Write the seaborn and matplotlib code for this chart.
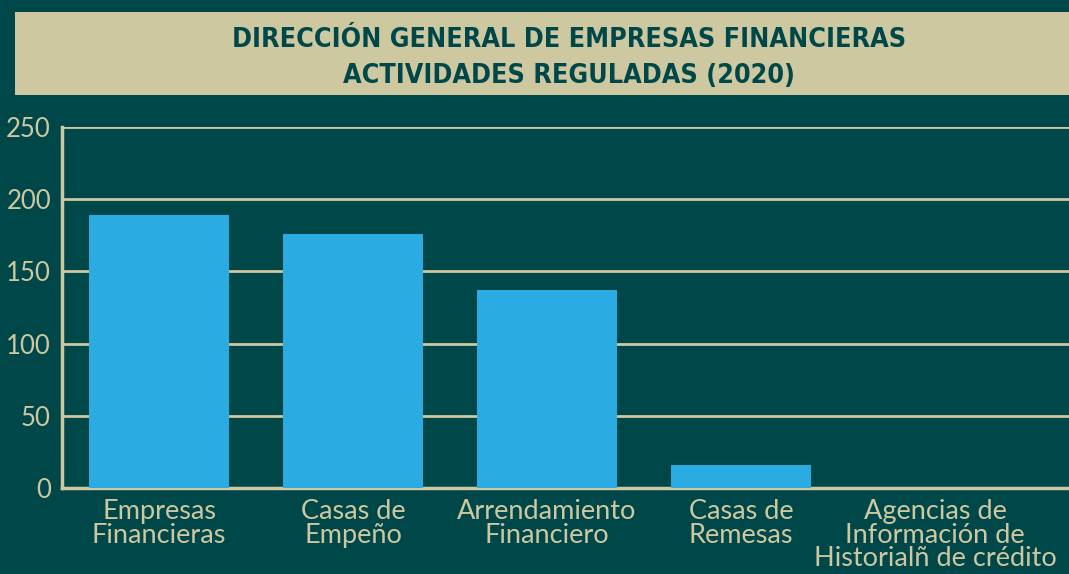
import matplotlib
matplotlib.use("Agg")
import matplotlib.pyplot as plt
import seaborn as sns
import pandas as pd
from matplotlib.patches import Rectangle

categories = ["Empresas\nFinancieras", "Casas de\nEmpeño", "Arrendamiento\nFinanciero",
              "Casas de\nRemesas", "Agencias de\nInformación de\nHistorialñ de crédito"]
values = [189, 176, 137, 16, 0]
yticks = [0, 50, 100, 150, 200, 250]
title_lines = ["DIRECCIÓN GENERAL DE EMPRESAS FINANCIERAS", "ACTIVIDADES REGULADAS (2020)"]

BG = "#00474a"
BEIGE = "#cdc89f"
BAR = "#2aabe2"

sns.set_theme(style="white")
plt.rcParams['font.family'] = ['Lato', 'DejaVu Sans']

fig = plt.figure(figsize=(10.69, 5.74), dpi=100, facecolor=BG)
W, H = 1069, 574
ax = fig.add_axes([62 / W, 1 - 488 / H, (W - 62) / W, (488 - 127) / H])
ax.set_facecolor(BG)

df = pd.DataFrame({"cat": categories, "val": values})
sns.barplot(data=df, x="cat", y="val", color=BAR, width=0.72, saturation=1, ax=ax, zorder=3)
for p in ax.patches:
    p.set_edgecolor("none")

ax.set_ylim(0, 250)
ax.set_xlim(-0.5, 4.69)
ax.set_yticks(yticks)
ax.yaxis.grid(True, color=BEIGE, linewidth=2, zorder=0)
ax.set_axisbelow(True)
ax.set_xlabel("")
ax.set_ylabel("")
for s in ["top", "right"]:
    ax.spines[s].set_visible(False)
for s in ["left", "bottom"]:
    ax.spines[s].set_color(BEIGE)
    ax.spines[s].set_linewidth(2.5)
ax.tick_params(axis="both", length=0, colors=BEIGE)
ax.tick_params(axis="y", pad=8, labelsize=18.5)
ax.tick_params(axis="x", pad=8, labelsize=19.5)
for lab in ax.get_xticklabels():
    lab.set_linespacing(0.93)

# title box
fig.patches.append(Rectangle((15 / W, 1 - 95 / H), (W - 15) / W, (95 - 12) / H,
                             transform=fig.transFigure, facecolor=BEIGE, edgecolor="none"))
fig.text(569 / W, 1 - 40 / H, title_lines[0], ha="center", va="center", color=BG,
         fontsize=19.3, fontweight="bold", family=['DejaVu Sans'], fontstretch='condensed')
fig.text(569 / W, 1 - 76 / H, title_lines[1], ha="center", va="center", color=BG,
         fontsize=19.3, fontweight="bold", family=['DejaVu Sans'], fontstretch='condensed')

fig.savefig("out.png", dpi=100, facecolor=BG)
